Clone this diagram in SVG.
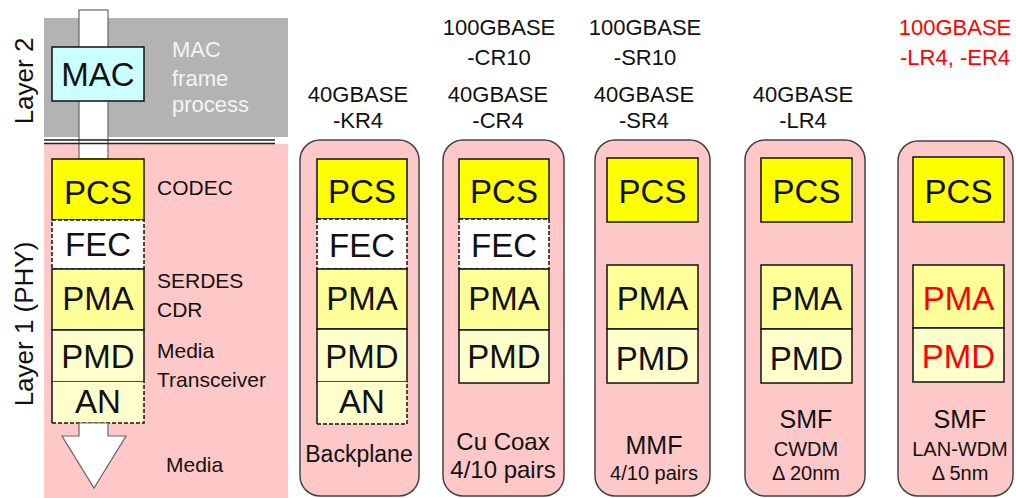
<svg xmlns="http://www.w3.org/2000/svg" width="1016" height="498" viewBox="0 0 1016 498">
<style>
text{font-family:"Liberation Sans",Arial,sans-serif;fill:#111;}
.big{font-size:33px;text-anchor:middle;}
.hdr{font-size:22px;text-anchor:middle;}
.lbl{font-size:21px;}
.med{font-size:23px;text-anchor:middle;}
.sm{font-size:20px;text-anchor:middle;}
.red{fill:#ff0000;}
.col{fill:#ffc8c8;stroke:#444;stroke-width:1.5;}
.b{stroke:#111;stroke-width:1.5;}
.pcs{fill:#ffff00;}
.pma{fill:#ffff99;}
.pmd{fill:#ffffcc;}
.fec{fill:#ffffff;stroke:#111;stroke-width:1.5;stroke-dasharray:4 2;}
.dash{stroke:#111;stroke-width:1.5;stroke-dasharray:4 2;fill:none;}
</style>

<!-- left reference stack -->
<g id="left-panel">
  <rect x="44" y="18" width="244" height="119" fill="#b3b3b3"/>
  <rect x="44" y="144" width="244" height="354" fill="#ffc8c8"/>
  <rect x="79" y="10" width="29" height="149" fill="#ffffff" stroke="#666" stroke-width="1.2"/>
  <line x1="44" y1="140" x2="275" y2="140" stroke="#222" stroke-width="1.5"/>
  <line x1="44" y1="143.5" x2="275" y2="143.5" stroke="#222" stroke-width="1.5"/>
  <text transform="translate(33,81) rotate(-90)" style="font-size:26px;text-anchor:middle">Layer 2</text>
  <text transform="translate(33,324) rotate(-90)" style="font-size:26px;text-anchor:middle">Layer 1 (PHY)</text>
  <text x="172" y="57" class="lbl" style="fill:#f4f4f4;font-size:22px">MAC</text>
  <text x="172" y="86" class="lbl" style="fill:#f4f4f4;font-size:22px">frame</text>
  <text x="172" y="112" class="lbl" style="fill:#f4f4f4;font-size:22px">process</text>
</g>
<g id="mac">
  <rect x="52" y="47" width="92" height="54" fill="#ccffff" class="b"/>
  <text x="98" y="86" class="big">MAC</text>
</g>
<g id="left-stack">
  <rect x="52" y="159" width="92" height="61" class="pcs b"/>
  <text x="98" y="204" class="big">PCS</text>
  <rect x="52" y="220" width="92" height="49" class="fec"/>
  <text x="98" y="256" class="big">FEC</text>
  <rect x="52" y="269" width="92" height="61" class="pma b"/>
  <text x="98" y="310" class="big">PMA</text>
  <rect x="52" y="330" width="92" height="52" class="pmd b"/>
  <text x="98" y="368" class="big">PMD</text>
  <rect x="52" y="382" width="92" height="41" class="pmd"/>
  <line x1="52" y1="382" x2="52" y2="423" class="b"/>
  <path d="M52 423 H144 V382" class="dash"/>
  <text x="98" y="413" class="big">AN</text>
  <polygon points="79,423 108,423 108,436 126,436 94,488 62,436 79,436" fill="#ffffff" stroke="#666" stroke-width="1.2"/>
  <text x="157" y="195" class="lbl">CODEC</text>
  <text x="157" y="288" class="lbl">SERDES</text>
  <text x="157" y="317" class="lbl">CDR</text>
  <text x="157" y="358" class="lbl">Media</text>
  <text x="157" y="387" class="lbl">Transceiver</text>
  <text x="166" y="472" class="lbl">Media</text>
</g>

<!-- column 1: 40GBASE-KR4 -->
<g id="kr4">
  <text x="358" y="102" class="hdr">40GBASE</text>
  <text x="358" y="128" class="hdr">-KR4</text>
  <rect x="300" y="140" width="119" height="356" rx="20" class="col"/>
  <rect x="317" y="159" width="90" height="60" class="pcs b"/>
  <text x="362" y="203" class="big">PCS</text>
  <rect x="317" y="219" width="90" height="50" class="fec"/>
  <text x="362" y="257" class="big">FEC</text>
  <rect x="317" y="269" width="90" height="60" class="pma b"/>
  <text x="362" y="310" class="big">PMA</text>
  <rect x="317" y="329" width="90" height="53" class="pmd b"/>
  <text x="362" y="368" class="big">PMD</text>
  <rect x="317" y="382" width="90" height="42" class="pmd"/>
  <line x1="317" y1="382" x2="317" y2="424" class="b"/>
  <path d="M317 424 H407 V382" class="dash"/>
  <text x="362" y="413" class="big">AN</text>
  <text x="359" y="462" class="med">Backplane</text>
</g>

<!-- column 2: CR4 / CR10 -->
<g id="cr4">
  <text x="499" y="35" class="hdr">100GBASE</text>
  <text x="499" y="65" class="hdr">-CR10</text>
  <text x="498" y="102" class="hdr">40GBASE</text>
  <text x="498" y="128" class="hdr">-CR4</text>
  <rect x="443" y="140" width="121" height="356" rx="20" class="col"/>
  <rect x="459" y="159" width="90" height="60" class="pcs b"/>
  <text x="504" y="203" class="big">PCS</text>
  <rect x="459" y="219" width="90" height="50" class="fec"/>
  <text x="504" y="257" class="big">FEC</text>
  <rect x="459" y="269" width="90" height="61" class="pma b"/>
  <text x="504" y="310" class="big">PMA</text>
  <rect x="459" y="330" width="90" height="53" class="pmd b"/>
  <text x="504" y="368" class="big">PMD</text>
  <text x="503" y="450" class="med" style="font-size:24px">Cu Coax</text>
  <text x="503" y="478" class="med" style="font-size:24px">4/10 pairs</text>
</g>

<!-- column 3: SR4 / SR10 -->
<g id="sr4">
  <text x="645" y="35" class="hdr">100GBASE</text>
  <text x="645" y="65" class="hdr">-SR10</text>
  <text x="644" y="102" class="hdr">40GBASE</text>
  <text x="644" y="128" class="hdr">-SR4</text>
  <rect x="595" y="140" width="115" height="356" rx="20" class="col"/>
  <rect x="607" y="158" width="91" height="64" class="pcs b"/>
  <text x="652.5" y="203" class="big">PCS</text>
  <rect x="607" y="265" width="91" height="64" class="pma b"/>
  <text x="652.5" y="310" class="big">PMA</text>
  <rect x="607" y="329" width="91" height="54" class="pmd b"/>
  <text x="652.5" y="370" class="big">PMD</text>
  <text x="654" y="454" class="med" style="font-size:25px">MMF</text>
  <text x="654" y="480" class="sm">4/10 pairs</text>
</g>

<!-- column 4: 40GBASE-LR4 -->
<g id="lr4">
  <text x="803" y="102" class="hdr">40GBASE</text>
  <text x="803" y="128" class="hdr">-LR4</text>
  <rect x="745" y="140" width="120" height="356" rx="20" class="col"/>
  <rect x="761" y="158" width="91" height="64" class="pcs b"/>
  <text x="806.5" y="203" class="big">PCS</text>
  <rect x="761" y="265" width="91" height="64" class="pma b"/>
  <text x="806.5" y="310" class="big">PMA</text>
  <rect x="761" y="329" width="91" height="54" class="pmd b"/>
  <text x="806.5" y="370" class="big">PMD</text>
  <text x="806" y="428" class="med" style="font-size:25px">SMF</text>
  <text x="806" y="456" class="sm">CWDM</text>
  <text x="806" y="480" class="sm">Δ 20nm</text>
</g>

<!-- column 5: 100GBASE-LR4, -ER4 -->
<g id="lr4-100g">
  <text x="955" y="35" class="hdr red">100GBASE</text>
  <text x="955" y="65" class="hdr red">-LR4, -ER4</text>
  <rect x="898" y="141" width="115" height="355" rx="20" class="col"/>
  <rect x="913" y="157" width="91" height="65" class="pcs b"/>
  <text x="958.5" y="203" class="big">PCS</text>
  <rect x="913" y="265" width="91" height="63" class="pma b"/>
  <text x="958.5" y="310" class="big red">PMA</text>
  <rect x="913" y="328" width="91" height="54" class="pmd b"/>
  <text x="958.5" y="368" class="big red">PMD</text>
  <text x="960" y="428" class="med" style="font-size:25px">SMF</text>
  <text x="960" y="456" class="sm">LAN-WDM</text>
  <text x="960" y="480" class="sm">Δ 5nm</text>
</g>

<g id="connectors"></g>
</svg>
